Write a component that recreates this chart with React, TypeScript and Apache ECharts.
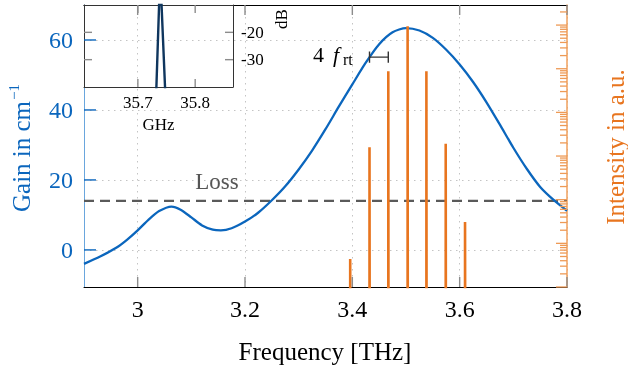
import React, { useEffect, useRef } from 'react';
import * as echarts from 'echarts';

// ---- data ----
const gainFreq = [2.9, 2.93, 2.96, 2.98, 3.0, 3.02, 3.04, 3.063, 3.08, 3.1, 3.12, 3.14, 3.155, 3.175, 3.2, 3.225, 3.25, 3.275, 3.3, 3.325, 3.35, 3.375, 3.4, 3.425, 3.45, 3.475, 3.5, 3.525, 3.55, 3.575, 3.6, 3.625, 3.65, 3.675, 3.7, 3.725, 3.75, 3.775, 3.8];
const gainValues = [-4.0, -1.9, 0.6, 2.9, 5.6, 8.6, 11.1, 12.4, 11.5, 9.3, 7.0, 5.8, 5.6, 6.2, 8.1, 10.7, 14.2, 18.2, 23.0, 28.4, 34.5, 41.0, 47.3, 53.5, 58.8, 62.2, 63.4, 62.7, 60.6, 57.2, 53.0, 48.0, 42.2, 35.8, 29.2, 23.2, 18.0, 14.3, 11.2];
const lossLevel = 14;
const modeFreq = [3.396, 3.432, 3.467, 3.503, 3.538, 3.574, 3.61];
const modeIntensity = [4.4, 1600, 88000, 940000, 88000, 1900, 31];
const xTicks = [3, 3.2, 3.4, 3.6, 3.8];
const gainTicks = [0, 20, 40, 60];
const intensityDecades = [1, 10, 100, 1000, 10000, 100000, 1000000];
const minorMultipliers = [2, 3, 4, 5, 6, 7, 8, 9];
const intensityMax = 2884032;
const bracketFreq = [3.432, 3.467];
const bracketLevel = 55.1;
const insetFreq = [35.7317, 35.7389, 35.7482];
const insetLevel = [-44, 2, -44];
const insetXTicks = [35.7, 35.8];
const insetYTicks = [-30, -20];

const BLUE = '#0b66bd';
const ORANGE = '#e8751f';
const FONT = 'Liberation Serif, Times New Roman, serif';

const X_MIN = 2.9, X_MAX = 3.8, G_MIN = -10.6, G_MAX = 70;
const IX_MIN = 35.606, IX_MAX = 35.866, IY_MIN = -40, IY_MAX = -10;

export default function App() {
  const ref = useRef<HTMLDivElement>(null);
  useEffect(() => {
    const chart = echarts.init(ref.current!, null, { renderer: 'svg' });
    const lg = (v: number) => Math.log10(v);
    const majorLog = intensityDecades.map(lg);
    const minorLog: number[] = [];
    intensityDecades.forEach((d) => minorMultipliers.forEach((m) => minorLog.push(lg(d * m))));

    const floorLog = -2;
    const spectrum: any[] = [];
    modeFreq.forEach((f, i) => {
      spectrum.push([f, floorLog], [f, lg(modeIntensity[i])], [f + 0.0004, floorLog]);
    });
    const [ba, bb] = bracketFreq;
    const bracket = [
      [ba, bracketLevel - 1.6], [ba, bracketLevel + 1.6], [ba, bracketLevel],
      [bb, bracketLevel], [bb, bracketLevel + 1.6], [bb, bracketLevel - 1.6],
    ];

    const dotted = { show: true, lineStyle: { color: '#c4c4c4', width: 1, type: [1.5, 4.5] as any } };
    const frame = (color: string, width = 1) => ({ show: true, onZero: false, lineStyle: { color, width } });
    const noTick = { show: false };

    chart.setOption({
      animation: false,
      grid: [
        { left: 84, right: 61, top: 5, bottom: 80, containLabel: false },
        { left: 84, top: 5, width: 149, height: 82, containLabel: false, z: 10 },
      ],
      xAxis: [
        {
          gridIndex: 0, type: 'value', min: X_MIN, max: X_MAX, position: 'bottom',
          axisLine: frame('#000'), axisTick: noTick,
          axisLabel: { customValues: xTicks, fontSize: 24, fontFamily: FONT, color: '#000', margin: 10 },
          splitLine: dotted,
        },
        {
          gridIndex: 0, type: 'value', min: X_MIN, max: X_MAX, position: 'top',
          axisLine: frame('#000'), axisTick: noTick,
          axisLabel: { show: false }, splitLine: { show: false },
        },
        {
          gridIndex: 1, type: 'value', min: IX_MIN, max: IX_MAX, position: 'bottom', z: 10,
          axisLine: frame('#333'), axisTick: noTick,
          axisLabel: { customValues: insetXTicks, fontSize: 17, fontFamily: FONT, color: '#000', margin: 7, formatter: (v: number) => v.toFixed(1) },
          splitLine: { show: false },
          name: 'GHz', nameLocation: 'middle', nameGap: 29,
          nameTextStyle: { fontSize: 17, fontFamily: FONT, color: '#000' },
        },
        {
          gridIndex: 1, type: 'value', min: IX_MIN, max: IX_MAX, position: 'top', z: 10,
          axisLine: frame('#333'), axisTick: noTick,
          axisLabel: { show: false }, splitLine: { show: false },
        },
      ],
      yAxis: [
        {
          gridIndex: 0, type: 'value', min: G_MIN, max: G_MAX, position: 'left',
          axisLine: frame('#6aa6dd'), axisTick: noTick,
          axisLabel: { customValues: gainTicks, fontSize: 24, fontFamily: FONT, color: BLUE, margin: 11 },
          splitLine: dotted,
        },
        {
          gridIndex: 0, type: 'value', min: 0, max: lg(intensityMax), position: 'right',
          axisLine: frame('#f0a15e', 1.5), axisTick: noTick,
          axisLabel: { show: false }, splitLine: { show: false },
        },
        {
          gridIndex: 1, type: 'value', min: IY_MIN, max: IY_MAX, position: 'right', z: 10,
          axisLine: frame('#333'), axisTick: noTick,
          axisLabel: { customValues: insetYTicks, fontSize: 17, fontFamily: FONT, color: '#000', margin: 8 },
          splitLine: { show: false },
        },
        {
          gridIndex: 1, type: 'value', min: IY_MIN, max: IY_MAX, position: 'left', z: 10,
          axisLine: frame('#333'), axisTick: noTick,
          axisLabel: { show: false }, splitLine: { show: false },
        },
      ],
      series: [
        {
          name: 'Loss', type: 'line', xAxisIndex: 0, yAxisIndex: 0, symbol: 'none',
          data: [[X_MIN, lossLevel], [X_MAX, lossLevel]],
          lineStyle: { color: '#5a5a5a', width: 2.2, type: [10, 6] as any },
        },
        {
          name: 'Gain', type: 'line', xAxisIndex: 0, yAxisIndex: 0, symbol: 'none', smooth: 0.25,
          data: gainFreq.map((f, i) => [f, gainValues[i]]),
          lineStyle: { color: BLUE, width: 2.3 }, z: 3,
        },
        {
          name: 'Intensity', type: 'line', xAxisIndex: 0, yAxisIndex: 1, symbol: 'none', clip: true,
          data: spectrum,
          lineStyle: { color: ORANGE, width: 2.6 }, z: 4,
        },
        {
          name: 'frt', type: 'line', xAxisIndex: 0, yAxisIndex: 0, symbol: 'none',
          data: bracket,
          lineStyle: { color: '#333', width: 1.4 }, z: 5,
        },
        {
          name: 'Inset', type: 'line', xAxisIndex: 2, yAxisIndex: 2, symbol: 'none', clip: true,
          data: insetFreq.map((f, i) => [f, insetLevel[i]]),
          lineStyle: { color: '#0f365e', width: 2.4 }, z: 12,
        },
      ],
    });

    // ticks, placed through the axes' own scales
    const toPx = (xi: number, yi: number, pt: number[]) =>
      chart.convertToPixel({ xAxisIndex: xi, yAxisIndex: yi } as any, pt) as number[];
    const ticks: any[] = [];
    const seg = (x1: number, y1: number, x2: number, y2: number, stroke: string, lineWidth: number) =>
      ticks.push({ type: 'line', silent: true, z: 100, shape: { x1, y1, x2, y2 }, style: { stroke, lineWidth } });

    const GRAY = '#8c8c8c';
    const mainBL = toPx(0, 0, [X_MIN, G_MIN]);
    const mainTR = toPx(0, 0, [X_MAX, G_MAX]);
    xTicks.forEach((v) => {
      const x = toPx(0, 0, [v, 0])[0];
      seg(x, mainBL[1], x, mainBL[1] - 10, GRAY, 1.4);
      seg(x, mainTR[1], x, mainTR[1] + 10, GRAY, 1.4);
    });
    gainTicks.forEach((v) => {
      const y = toPx(0, 0, [X_MIN, v])[1];
      seg(mainBL[0], y, mainBL[0] + 12, y, BLUE, 1.4);
    });
    majorLog.forEach((v) => {
      const y = toPx(0, 1, [X_MIN, v])[1];
      seg(mainTR[0], y, mainTR[0] - 11, y, '#ee9a55', 1.3);
    });
    minorLog.forEach((v) => {
      if (v > lg(intensityMax)) return;
      const y = toPx(0, 1, [X_MIN, v])[1];
      seg(mainTR[0], y, mainTR[0] - 7, y, '#ee9a55', 1.3);
    });
    const inBL = toPx(2, 2, [IX_MIN, IY_MIN]);
    const inTR = toPx(2, 2, [IX_MAX, IY_MAX]);
    insetXTicks.forEach((v) => {
      const x = toPx(2, 2, [v, -25])[0];
      seg(x, inBL[1], x, inBL[1] - 8, GRAY, 1.4);
      seg(x, inTR[1], x, inTR[1] + 8, GRAY, 1.4);
    });
    insetYTicks.forEach((v) => {
      const y = toPx(2, 2, [35.7, v])[1];
      seg(inBL[0], y, inBL[0] + 8, y, GRAY, 1.4);
      seg(inTR[0], y, inTR[0] - 8, y, GRAY, 1.4);
    });

    const texts: any[] = [
      { type: 'text', x: 325, y: 351, style: { text: 'Frequency [THz]', font: `25px ${FONT}`, fill: '#000', align: 'center', verticalAlign: 'middle' } },
      {
        type: 'text', x: 21, y: 148, rotation: Math.PI / 2,
        style: {
          text: '{a|Gain in cm}{s|−1}', align: 'center', verticalAlign: 'middle',
          rich: {
            a: { fontSize: 25, fontFamily: FONT, fill: BLUE, color: BLUE, lineHeight: 30 },
            s: { fontSize: 15, fontFamily: FONT, fill: BLUE, color: BLUE, verticalAlign: 'top', lineHeight: 30, padding: [0, 0, 10, 1] },
          },
        },
      },
      { type: 'text', x: 615, y: 147, rotation: Math.PI / 2, style: { text: 'Intensity in a.u.', font: `25px ${FONT}`, fill: ORANGE, align: 'center', verticalAlign: 'middle' } },
      { type: 'text', x: 217, y: 181, style: { text: 'Loss', font: `23px ${FONT}`, fill: '#555', align: 'center', verticalAlign: 'middle' } },
      { type: 'text', x: 281, y: 19, rotation: Math.PI / 2, style: { text: 'dB', font: `17px ${FONT}`, fill: '#000', align: 'center', verticalAlign: 'middle' } },
      { type: 'text', x: 313, y: 54, style: { text: '4', font: `22px ${FONT}`, fill: '#000', align: 'left', verticalAlign: 'middle' } },
      { type: 'text', x: 333, y: 54, style: { text: 'f', font: `italic 22px ${FONT}`, fill: '#000', align: 'left', verticalAlign: 'middle' } },
      { type: 'text', x: 343, y: 59, style: { text: 'rt', font: `16px ${FONT}`, fill: '#000', align: 'left', verticalAlign: 'middle' } },
    ];

    chart.setOption({ graphic: [...texts, ...ticks] });
    return () => chart.dispose();
  }, []);
  return <div ref={ref} style={{ position: 'fixed', left: 0, top: 0, width: 628, height: 367 }} />;
}
